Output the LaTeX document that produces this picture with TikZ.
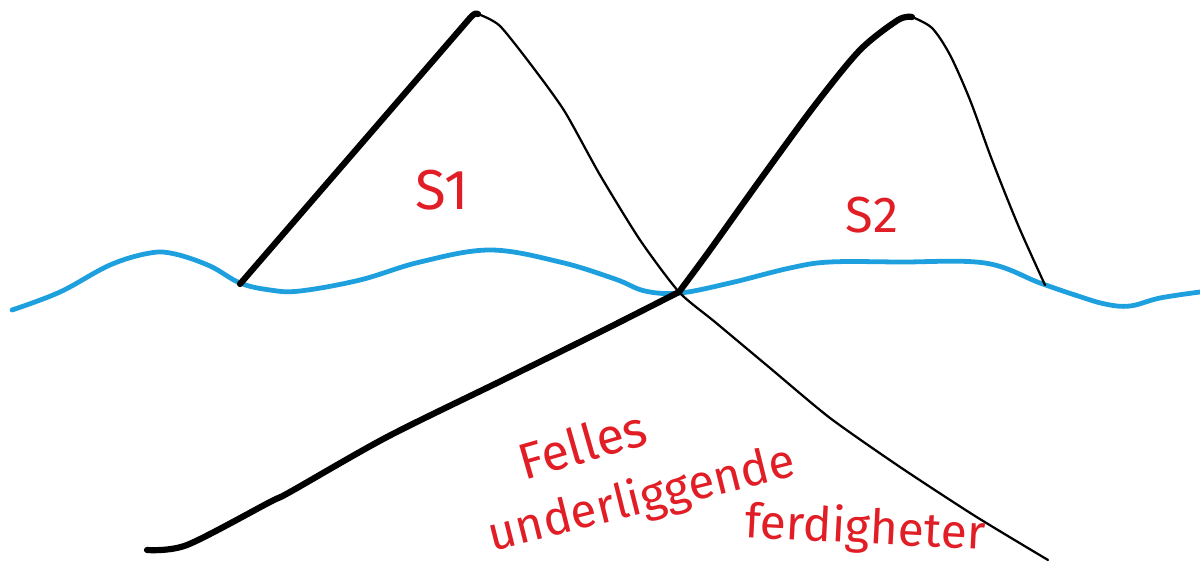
\documentclass[tikz,border=0pt]{standalone}
\usepackage{fontspec}
\newfontfamily\hand{Fira Sans}
\definecolor{wave}{RGB}{30,160,222}
\definecolor{ink}{RGB}{225,30,38}
\begin{document}
\begin{tikzpicture}[x={(0.025cm,0)},y={(0,-0.025cm)},
  thickline/.style={line width=4.4pt,line cap=round,line join=round,black},
  thinline/.style={line width=1.6pt,line cap=round,line join=round,black},
  waterline/.style={line width=3.4pt,line cap=round,line join=round,wave},
  label/.style={text=ink,font=\hand\bfseries,inner sep=0pt}]
\useasboundingbox (0,0) rectangle (1200,565);
% water line
\draw[waterline] plot[smooth,tension=0.6] coordinates {(12,310) (60,292) (110,265) (150,253) (175,254) (210,266) (240,283) (270,290) (300,291) (360,280) (420,262) (490,250) (560,262) (615,279) (645,291) (680,293) (730,283) (790,268) (830,262) (900,262) (985,263) (1040,283) (1075,295) (1105,304) (1130,306) (1160,298) (1200,292)};
% left mountain
\coordinate (a1) at (240,284);
\coordinate (p1) at (478,14);
\coordinate (x) at (679,292);
\draw[thickline] (a1) -- (470,18) to[out=45,in=150] (p1);
\draw[thinline] plot[smooth,tension=0.4] coordinates {(p1) (500,26) (535,70) (565,112) (600,175) (640,240) (x) (715,322) (770,368) (830,418) (900,467) (975,516) (1048,560)};
% right mountain
\coordinate (p2) at (912,17);
\coordinate (b2) at (1045,285);
\draw[thickline] plot[smooth,tension=0.5] coordinates {(x) (710,250) (760,180) (815,105) (860,50) (898,20) (p2)};
\draw[thinline] plot[smooth,tension=0.5] coordinates {(p2) (932,28) (950,55) (970,100) (992,160) (1018,225) (b2)};
% underwater line
\draw[thickline] plot[smooth,tension=0.5] coordinates {(147,550) (187,545) (270,502) (290,492) (387,437) (503,380) (600,332) (x)};
% labels
\node[label,font=\hand\fontsize{40}{42}\selectfont] (s1) at (442,190) {S1};
\node[label,font=\hand\fontsize{36}{40}\selectfont] (s2) at (872,215) {S2};
\node[label,font=\hand\fontsize{36}{40}\selectfont,rotate=16] (f1) at (582,444) {Felles};
\node[label,font=\hand\fontsize{34}{40}\selectfont,rotate=14] (f2) at (642,500) {underliggende};
\node[label,font=\hand\fontsize{34}{40}\selectfont,rotate=-3] (f3) at (865,530) {ferdigheter};
\end{tikzpicture}
\end{document}
